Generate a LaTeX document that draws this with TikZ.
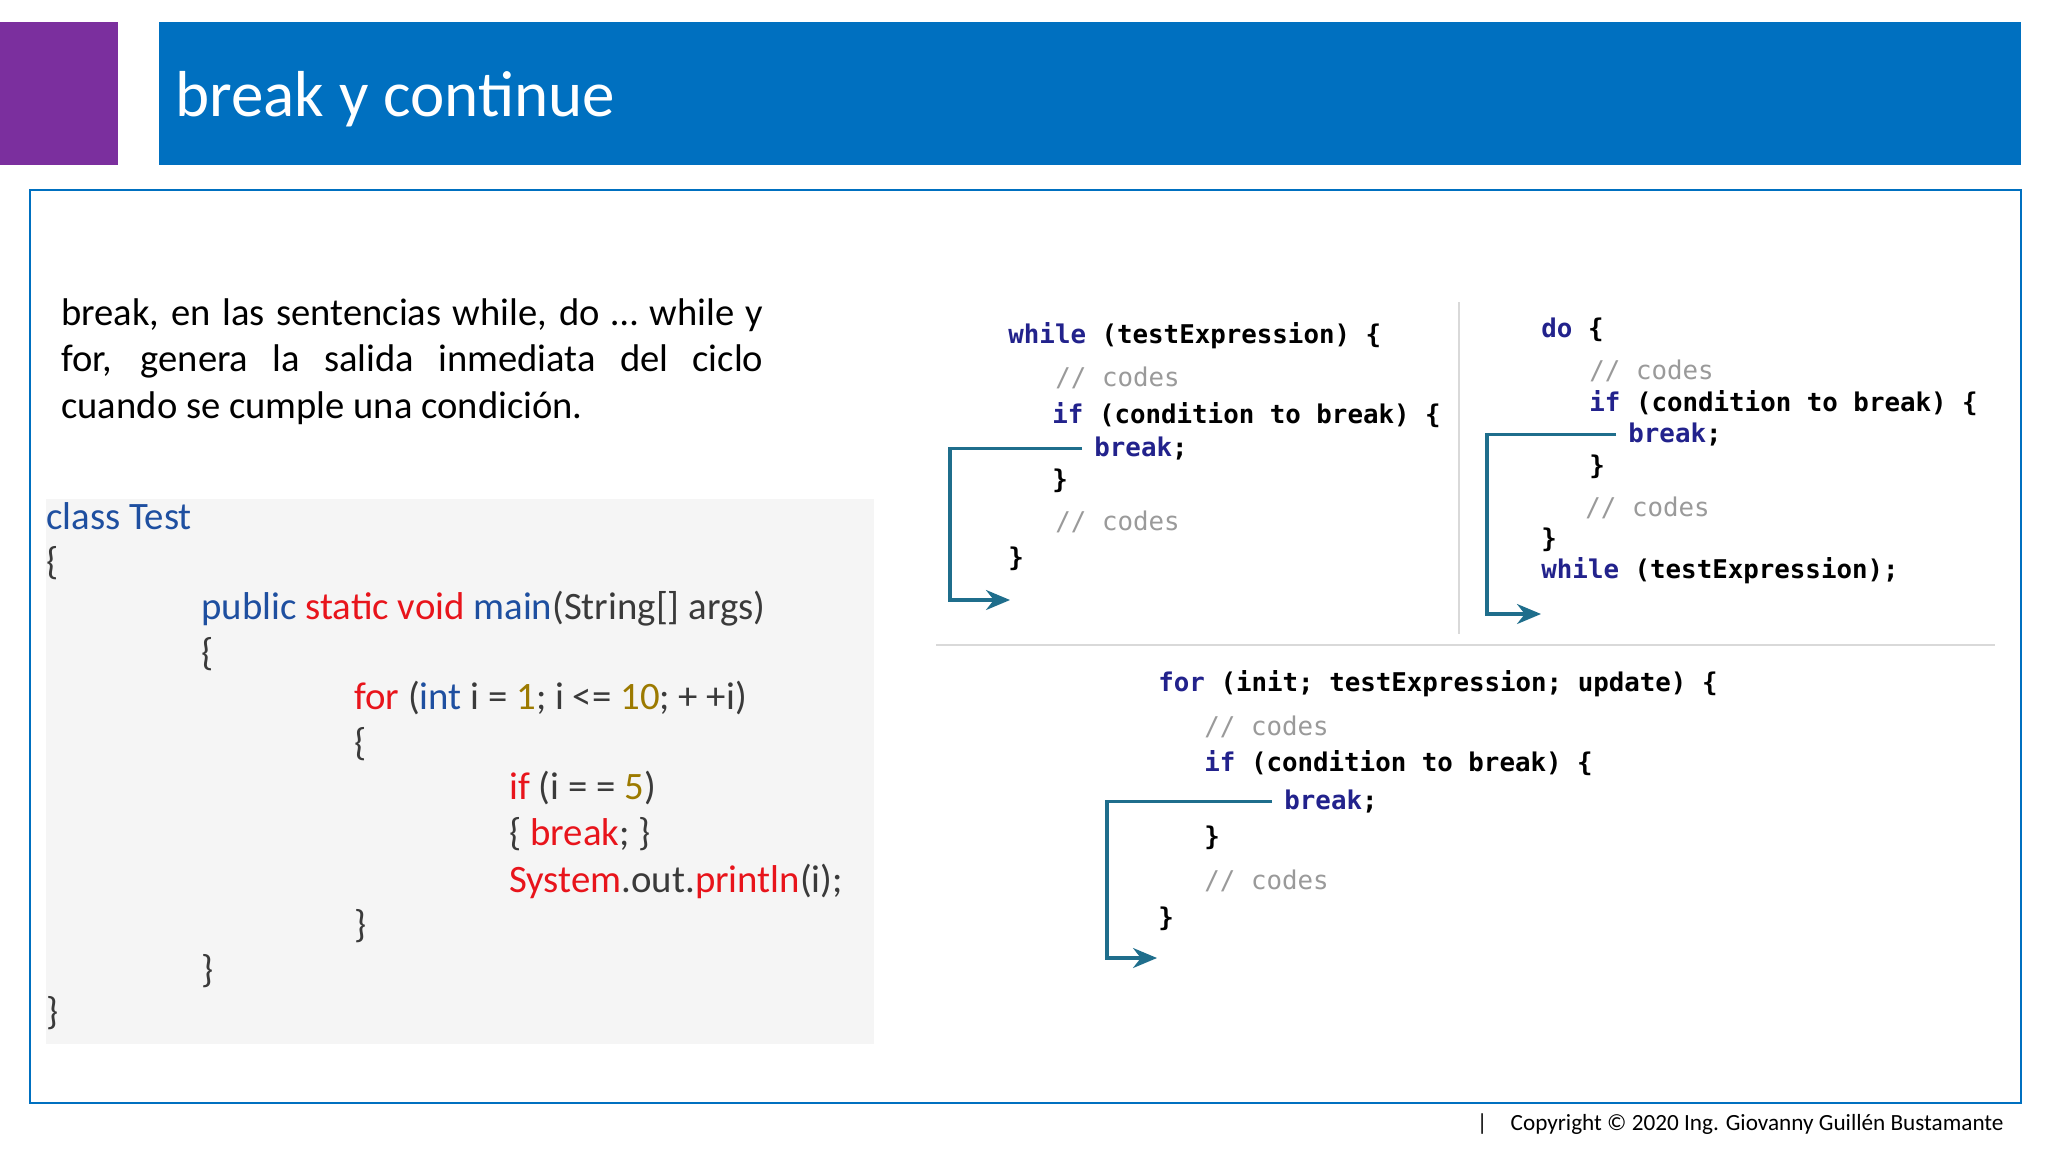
\documentclass[tikz,border=0pt]{standalone}
\usepackage{fontspec}
\setmainfont{Carlito}
\newfontfamily\codefont{DejaVu Sans Mono}
\usetikzlibrary{arrows.meta}
\definecolor{tblue}{HTML}{0070C0}
\definecolor{tpurple}{HTML}{7B2F9E}
\definecolor{kw}{HTML}{1E4FA0}
\definecolor{kr}{HTML}{E8141B}
\definecolor{num}{HTML}{9C7A00}
\definecolor{dk}{HTML}{3A3A3A}
\definecolor{nv}{HTML}{22228C}
\definecolor{cm}{HTML}{9A9A9A}
\definecolor{teal}{HTML}{1F6E8C}
\begin{document}
\begin{tikzpicture}[x=0.5pt,y=-0.5pt,
  lc/.style={anchor=mid west,inner sep=0,font=\fontsize{19.4}{23}\selectfont,text=dk},
  rc/.style={anchor=mid west,inner sep=0,font=\codefont\bfseries\fontsize{12.9}{15}\selectfont,text=black},
  cmt/.style={rc,text=cm,font=\codefont\fontsize{12.9}{15}\selectfont},
  br/.style={draw=teal,line width=1.6pt,-{Stealth[length=12pt,width=10pt]}},
  sep/.style={draw=black!15,line width=0.8pt}]
\useasboundingbox (0,0) rectangle (2048,1152);
\fill[white] (0,0) rectangle (2048,1152);
\fill[tpurple] (0,22) rectangle (118,165);
\fill[tblue] (159,22) rectangle (2021,165);
\node[anchor=mid west,inner sep=0,text=white,font=\fontsize{32.5}{38}\selectfont] (title) at (175,112) {break y continue};
\draw[tblue,line width=0.8pt] (30,190) rectangle (2021,1103);
\node[anchor=north west,inner sep=0,text width=351pt,align=justify,font=\fontsize{19.3}{23.2}\selectfont] (para) at (61,298)
 {break, en las sentencias while, do … while y\linebreak for, genera la salida inmediata del ciclo\linebreak cuando se cumple una condición.};
% code box
\fill[black!4] (46,499) rectangle (874,1044);
\node[lc,text=kw] (c1) at (46,525) {class Test};
\node[lc] (c2) at (46,570) {\{};
\node[lc] (c3) at (201,615) {\textcolor{kw}{public} \textcolor{kr}{static void} \textcolor{kw}{main}(String[] args)};
\node[lc] (c4) at (201,661) {\{};
\node[lc] (c5) at (354,705) {\textcolor{kr}{for} (\textcolor{kw}{int} i = \textcolor{num}{1}; i <= \textcolor{num}{10}; + +i)};
\node[lc] (c6) at (354,751) {\{};
\node[lc] (c7) at (509,795) {\textcolor{kr}{if} (i = = \textcolor{num}{5})};
\node[lc] (c8) at (509,841) {\{ \textcolor{kr}{break}; \}};
\node[lc] (c9) at (509,888) {\textcolor{kr}{System}.out.\textcolor{kr}{println}(i);};
\node[lc] (c10) at (354,933) {\}};
\node[lc] (c11) at (201,978) {\}};
\node[lc] (c12) at (46,1020) {\}};
% separators
\draw[sep] (1459,302) -- (1459,634);
\draw[sep] (936,645) -- (1995,645);
% while panel
\node[rc] (w1) at (1008,339) {\textcolor{nv}{while} (testExpression) \{};
\node[cmt] (w2) at (1055,382) {// codes};
\node[rc] (w3) at (1052,419) {\textcolor{nv}{if} (condition to break) \{};
\node[rc,text=nv] (w4) at (1094,452) {break\textcolor{black}{;}};
\node[rc] (w5) at (1052,484) {\}};
\node[cmt] (w6) at (1055,526) {// codes};
\node[rc] (w7) at (1008,562) {\}};
\coordinate (wb) at (950,600);
\coordinate (wc) at (1010,600);
\draw[br] ([xshift=-6pt]w4.west) -- (w4.west -| wb) -- (wb) -- (wc);
% do panel
\node[rc] (d1) at (1541,333) {\textcolor{nv}{do} \{};
\node[cmt] (d2) at (1589,375) {// codes};
\node[rc] (d3) at (1589,407) {\textcolor{nv}{if} (condition to break) \{};
\node[rc,text=nv] (d4) at (1628,438) {break\textcolor{black}{;}};
\node[rc] (d5) at (1589,470) {\}};
\node[cmt] (d6) at (1585,512) {// codes};
\node[rc] (d7) at (1541,543) {\}};
\node[rc] (d8) at (1541,574) {\textcolor{nv}{while} (testExpression);};
\coordinate (db) at (1487,614);
\coordinate (dc) at (1541,614);
\draw[br] ([xshift=-6pt]d4.west) -- (d4.west -| db) -- (db) -- (dc);
% for panel
\node[rc] (f1) at (1158,687) {\textcolor{nv}{for} (init; testExpression; update) \{};
\node[cmt] (f2) at (1204,731) {// codes};
\node[rc] (f3) at (1204,767) {\textcolor{nv}{if} (condition to break) \{};
\node[rc,text=nv] (f4) at (1284,805) {break\textcolor{black}{;}};
\node[rc] (f5) at (1204,841) {\}};
\node[cmt] (f6) at (1204,885) {// codes};
\node[rc] (f7) at (1158,922) {\}};
\coordinate (fb) at (1107,958);
\coordinate (fc) at (1157,958);
\draw[br] ([xshift=-6pt]f4.west) -- (f4.west -| fb) -- (fb) -- (fc);
% footer
\node[anchor=mid east,inner sep=0,font=\fontsize{11.6}{13}\selectfont] (foot) at (2004,1126) {|\quad Copyright © 2020 Ing. Giovanny Guillén Bustamante};
\end{tikzpicture}
\end{document}
